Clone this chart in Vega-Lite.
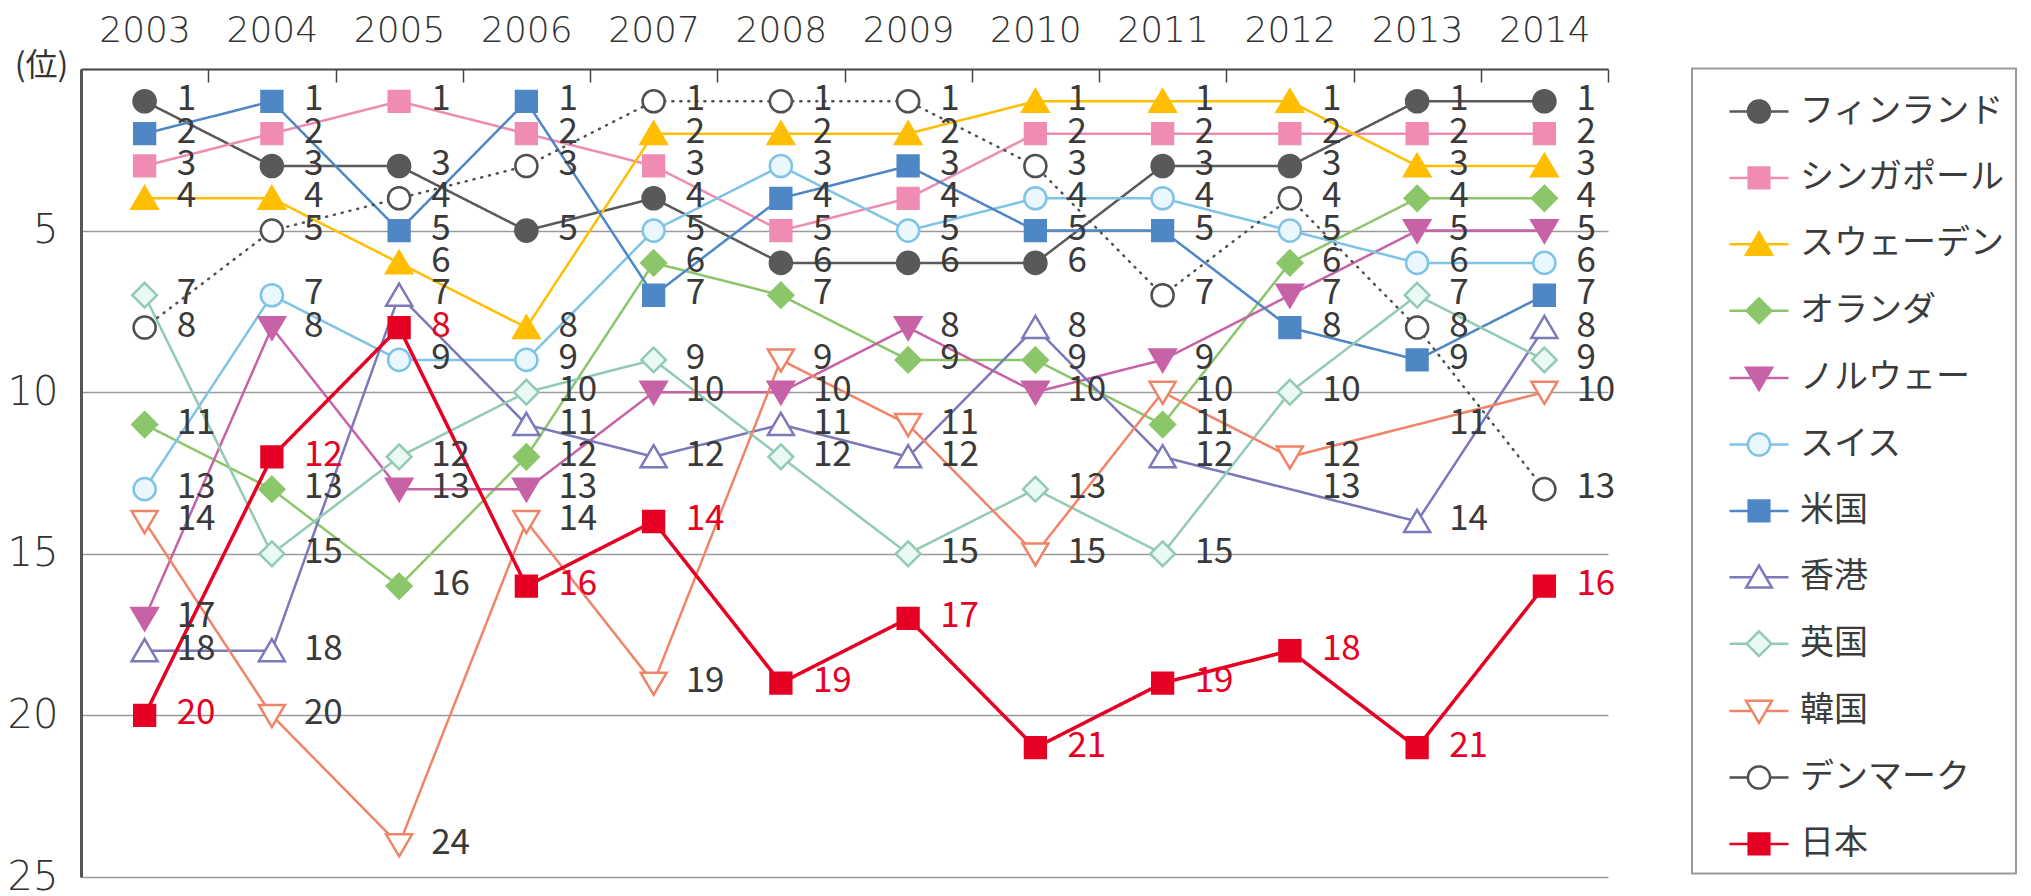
{
  "$schema": "https://vega.github.io/schema/vega-lite/v6.json",
  "width": 1527,
  "height": 808,
  "autosize": {"type": "none"},
  "padding": {"left": 81, "top": 69, "right": 423, "bottom": 19},
  "background": "white",
  "config": {"view": {"stroke": null}, "font": "Noto Sans CJK JP"},
  "data": {"values": [
    {"country": "フィンランド", "year": 2003, "rank": 1}, {"country": "フィンランド", "year": 2004, "rank": 3}, {"country": "フィンランド", "year": 2005, "rank": 3}, {"country": "フィンランド", "year": 2006, "rank": 5}, {"country": "フィンランド", "year": 2007, "rank": 4}, {"country": "フィンランド", "year": 2008, "rank": 6}, {"country": "フィンランド", "year": 2009, "rank": 6}, {"country": "フィンランド", "year": 2010, "rank": 6}, {"country": "フィンランド", "year": 2011, "rank": 3}, {"country": "フィンランド", "year": 2012, "rank": 3}, {"country": "フィンランド", "year": 2013, "rank": 1}, {"country": "フィンランド", "year": 2014, "rank": 1},
    {"country": "シンガポール", "year": 2003, "rank": 3}, {"country": "シンガポール", "year": 2004, "rank": 2}, {"country": "シンガポール", "year": 2005, "rank": 1}, {"country": "シンガポール", "year": 2006, "rank": 2}, {"country": "シンガポール", "year": 2007, "rank": 3}, {"country": "シンガポール", "year": 2008, "rank": 5}, {"country": "シンガポール", "year": 2009, "rank": 4}, {"country": "シンガポール", "year": 2010, "rank": 2}, {"country": "シンガポール", "year": 2011, "rank": 2}, {"country": "シンガポール", "year": 2012, "rank": 2}, {"country": "シンガポール", "year": 2013, "rank": 2}, {"country": "シンガポール", "year": 2014, "rank": 2},
    {"country": "スウェーデン", "year": 2003, "rank": 4}, {"country": "スウェーデン", "year": 2004, "rank": 4}, {"country": "スウェーデン", "year": 2005, "rank": 6}, {"country": "スウェーデン", "year": 2006, "rank": 8}, {"country": "スウェーデン", "year": 2007, "rank": 2}, {"country": "スウェーデン", "year": 2008, "rank": 2}, {"country": "スウェーデン", "year": 2009, "rank": 2}, {"country": "スウェーデン", "year": 2010, "rank": 1}, {"country": "スウェーデン", "year": 2011, "rank": 1}, {"country": "スウェーデン", "year": 2012, "rank": 1}, {"country": "スウェーデン", "year": 2013, "rank": 3}, {"country": "スウェーデン", "year": 2014, "rank": 3},
    {"country": "オランダ", "year": 2003, "rank": 11}, {"country": "オランダ", "year": 2004, "rank": 13}, {"country": "オランダ", "year": 2005, "rank": 16}, {"country": "オランダ", "year": 2006, "rank": 12}, {"country": "オランダ", "year": 2007, "rank": 6}, {"country": "オランダ", "year": 2008, "rank": 7}, {"country": "オランダ", "year": 2009, "rank": 9}, {"country": "オランダ", "year": 2010, "rank": 9}, {"country": "オランダ", "year": 2011, "rank": 11}, {"country": "オランダ", "year": 2012, "rank": 6}, {"country": "オランダ", "year": 2013, "rank": 4}, {"country": "オランダ", "year": 2014, "rank": 4},
    {"country": "ノルウェー", "year": 2003, "rank": 17}, {"country": "ノルウェー", "year": 2004, "rank": 8}, {"country": "ノルウェー", "year": 2005, "rank": 13}, {"country": "ノルウェー", "year": 2006, "rank": 13}, {"country": "ノルウェー", "year": 2007, "rank": 10}, {"country": "ノルウェー", "year": 2008, "rank": 10}, {"country": "ノルウェー", "year": 2009, "rank": 8}, {"country": "ノルウェー", "year": 2010, "rank": 10}, {"country": "ノルウェー", "year": 2011, "rank": 9}, {"country": "ノルウェー", "year": 2012, "rank": 7}, {"country": "ノルウェー", "year": 2013, "rank": 5}, {"country": "ノルウェー", "year": 2014, "rank": 5},
    {"country": "スイス", "year": 2003, "rank": 13}, {"country": "スイス", "year": 2004, "rank": 7}, {"country": "スイス", "year": 2005, "rank": 9}, {"country": "スイス", "year": 2006, "rank": 9}, {"country": "スイス", "year": 2007, "rank": 5}, {"country": "スイス", "year": 2008, "rank": 3}, {"country": "スイス", "year": 2009, "rank": 5}, {"country": "スイス", "year": 2010, "rank": 4}, {"country": "スイス", "year": 2011, "rank": 4}, {"country": "スイス", "year": 2012, "rank": 5}, {"country": "スイス", "year": 2013, "rank": 6}, {"country": "スイス", "year": 2014, "rank": 6},
    {"country": "米国", "year": 2003, "rank": 2}, {"country": "米国", "year": 2004, "rank": 1}, {"country": "米国", "year": 2005, "rank": 5}, {"country": "米国", "year": 2006, "rank": 1}, {"country": "米国", "year": 2007, "rank": 7}, {"country": "米国", "year": 2008, "rank": 4}, {"country": "米国", "year": 2009, "rank": 3}, {"country": "米国", "year": 2010, "rank": 5}, {"country": "米国", "year": 2011, "rank": 5}, {"country": "米国", "year": 2012, "rank": 8}, {"country": "米国", "year": 2013, "rank": 9}, {"country": "米国", "year": 2014, "rank": 7},
    {"country": "香港", "year": 2003, "rank": 18}, {"country": "香港", "year": 2004, "rank": 18}, {"country": "香港", "year": 2005, "rank": 7}, {"country": "香港", "year": 2006, "rank": 11}, {"country": "香港", "year": 2007, "rank": 12}, {"country": "香港", "year": 2008, "rank": 11}, {"country": "香港", "year": 2009, "rank": 12}, {"country": "香港", "year": 2010, "rank": 8}, {"country": "香港", "year": 2011, "rank": 12}, {"country": "香港", "year": 2012, "rank": 13}, {"country": "香港", "year": 2013, "rank": 14}, {"country": "香港", "year": 2014, "rank": 8},
    {"country": "英国", "year": 2003, "rank": 7}, {"country": "英国", "year": 2004, "rank": 15}, {"country": "英国", "year": 2005, "rank": 12}, {"country": "英国", "year": 2006, "rank": 10}, {"country": "英国", "year": 2007, "rank": 9}, {"country": "英国", "year": 2008, "rank": 12}, {"country": "英国", "year": 2009, "rank": 15}, {"country": "英国", "year": 2010, "rank": 13}, {"country": "英国", "year": 2011, "rank": 15}, {"country": "英国", "year": 2012, "rank": 10}, {"country": "英国", "year": 2013, "rank": 7}, {"country": "英国", "year": 2014, "rank": 9},
    {"country": "韓国", "year": 2003, "rank": 14}, {"country": "韓国", "year": 2004, "rank": 20}, {"country": "韓国", "year": 2005, "rank": 24}, {"country": "韓国", "year": 2006, "rank": 14}, {"country": "韓国", "year": 2007, "rank": 19}, {"country": "韓国", "year": 2008, "rank": 9}, {"country": "韓国", "year": 2009, "rank": 11}, {"country": "韓国", "year": 2010, "rank": 15}, {"country": "韓国", "year": 2011, "rank": 10}, {"country": "韓国", "year": 2012, "rank": 12}, {"country": "韓国", "year": 2013, "rank": 11}, {"country": "韓国", "year": 2014, "rank": 10},
    {"country": "デンマーク", "year": 2003, "rank": 8}, {"country": "デンマーク", "year": 2004, "rank": 5}, {"country": "デンマーク", "year": 2005, "rank": 4}, {"country": "デンマーク", "year": 2006, "rank": 3}, {"country": "デンマーク", "year": 2007, "rank": 1}, {"country": "デンマーク", "year": 2008, "rank": 1}, {"country": "デンマーク", "year": 2009, "rank": 1}, {"country": "デンマーク", "year": 2010, "rank": 3}, {"country": "デンマーク", "year": 2011, "rank": 7}, {"country": "デンマーク", "year": 2012, "rank": 4}, {"country": "デンマーク", "year": 2013, "rank": 8}, {"country": "デンマーク", "year": 2014, "rank": 13},
    {"country": "日本", "year": 2003, "rank": 20}, {"country": "日本", "year": 2004, "rank": 12}, {"country": "日本", "year": 2005, "rank": 8}, {"country": "日本", "year": 2006, "rank": 16}, {"country": "日本", "year": 2007, "rank": 14}, {"country": "日本", "year": 2008, "rank": 19}, {"country": "日本", "year": 2009, "rank": 17}, {"country": "日本", "year": 2010, "rank": 21}, {"country": "日本", "year": 2011, "rank": 19}, {"country": "日本", "year": 2012, "rank": 18}, {"country": "日本", "year": 2013, "rank": 21}, {"country": "日本", "year": 2014, "rank": 16}
  ]},
  "encoding": {
    "x": {
      "field": "year", "type": "ordinal",
      "scale": {"type": "band", "paddingInner": 0, "paddingOuter": 0},
      "axis": {
        "orient": "top", "title": null, "labelAngle": 0, "tickBand": "extent",
        "tickSize": -13, "tickColor": "#444444", "tickWidth": 1.5,
        "domainColor": "#444444", "domainWidth": 2,
        "labelPadding": 41, "labelBaseline": "alphabetic",
        "labelFontSize": 36, "labelColor": "#333333", "labelFont": "DejaVu Sans", "labelFontWeight": 300,
        "grid": false
      }
    },
    "y": {
      "field": "rank", "type": "quantitative",
      "scale": {"domain": [0, 25], "reverse": true, "nice": false, "zero": false},
      "axis": {
        "values": [5, 10, 15, 20, 25], "grid": true, "gridColor": "#9a9a9a", "gridWidth": 1.5,
        "domainColor": "#555555", "domainWidth": 3, "ticks": false,
        "labelFontSize": 40, "labelColor": "#333333", "labelPadding": 23, "labelFont": "DejaVu Sans", "labelFontWeight": 300,
        "title": "(位)", "titleAngle": 0, "titleX": -40, "titleY": -4, "titleAlign": "center", "titleBaseline": "middle",
        "titleFontSize": 32, "titleFontWeight": "normal", "titleColor": "#333333", "titleFont": "Noto Sans CJK JP"
      }
    }
  },
  "layer": [
    {
      "mark": {"type": "line", "strokeCap": "round", "strokeJoin": "round"},
      "encoding": {
        "stroke": {
          "field": "country", "type": "nominal",
          "scale": {
            "domain": ["フィンランド", "シンガポール", "スウェーデン", "オランダ", "ノルウェー", "スイス", "米国", "香港", "英国", "韓国", "デンマーク", "日本"],
            "range": ["#595959", "#f08cb4", "#ffbe00", "#8cc66a", "#c862a6", "#7fc3e6", "#4f86c6", "#7b79b9", "#92cbb2", "#f08468", "#505050", "#e60023"]
          },
          "legend": {
            "orient": "none", "legendX": 1611, "legendY": -0.5, "title": null, "padding": 12,
            "strokeColor": "#999999", "fillColor": "#ffffff",
            "symbolSize": 3481, "symbolOffset": 24, "symbolStrokeWidth": 2.5,
            "labelOffset": 10, "labelFontSize": 34, "labelFont": "Noto Sans CJK JP", "labelColor": "#3c3c3c", "labelLimit": 400,
            "rowPadding": 18.4,
            "encode": {
              "symbols": {"update": {
                "shape": {"signal": "['M-1,0H-0.375M0.375,0H1M-0.375,0A0.375,0.375 0 1,0 0.375,0A0.375,0.375 0 1,0 -0.375,0Z', 'M-1,0H-0.35M0.35,0H1M-0.35,-0.35H0.35V0.35H-0.35Z', 'M-1,0H-0.235M0.235,0H1M0,-0.4L0.44,0.35H-0.44Z', 'M-1,0H-0.42M0.42,0H1M0,-0.42L0.42,0L0,0.42L-0.42,0Z', 'M-1,0H-0.235M0.235,0H1M0,0.4L0.44,-0.35H-0.44Z'][indexof(['フィンランド', 'シンガポール', 'スウェーデン', 'オランダ', 'ノルウェー', 'スイス', '米国', '香港', '英国', '韓国', 'デンマーク', '日本'], datum.value) % 5]"},
                "fill": {"signal": "['#595959', '#f08cb4', '#ffbe00', '#8cc66a', '#c862a6', '#eaf7fc', '#4f86c6', '#ffffff', '#e9f9f4', '#ffffff', '#ffffff', '#e60023'][indexof(['フィンランド', 'シンガポール', 'スウェーデン', 'オランダ', 'ノルウェー', 'スイス', '米国', '香港', '英国', '韓国', 'デンマーク', '日本'], datum.value)]"},
                "strokeDash": {"value": [1, 0]},
                "opacity": {"value": 1}
              }},
              "legend": {"update": {"strokeWidth": {"value": 2}}}
            }
          }
        },
        "strokeWidth": {"condition": {"test": "datum.country === '日本'", "value": 3.5}, "value": 2.5},
        "strokeDash": {"condition": {"test": "datum.country === 'デンマーク'", "value": [1, 7]}, "value": [1, 0]}
      }
    },
    {
      "transform": [{"filter": "!((datum.country === '香港' && datum.year === 2012) || (datum.country === '韓国' && datum.year === 2013))"}],
      "mark": {"type": "point", "size": 676, "strokeWidth": 2.5, "opacity": 1},
      "encoding": {
        "shape": {
          "field": "country", "type": "nominal",
          "scale": {
            "domain": ["日本", "デンマーク", "韓国", "英国", "香港", "米国", "スイス", "ノルウェー", "オランダ", "スウェーデン", "シンガポール", "フィンランド"],
            "range": [
              "M-0.8,-0.8H0.8V0.8H-0.8Z",
              "M-0.85,0A0.85,0.85 0 1,0 0.85,0A0.85,0.85 0 1,0 -0.85,0Z",
              "M0,0.9L1,-0.8H-1Z",
              "M0,-0.95L0.95,0L0,0.95L-0.95,0Z",
              "M0,-0.9L1,0.8H-1Z",
              "M-0.8,-0.8H0.8V0.8H-0.8Z",
              "M-0.85,0A0.85,0.85 0 1,0 0.85,0A0.85,0.85 0 1,0 -0.85,0Z",
              "M0,0.9L1,-0.8H-1Z",
              "M0,-0.95L0.95,0L0,0.95L-0.95,0Z",
              "M0,-0.9L1,0.8H-1Z",
              "M-0.8,-0.8H0.8V0.8H-0.8Z",
              "M-0.85,0A0.85,0.85 0 1,0 0.85,0A0.85,0.85 0 1,0 -0.85,0Z"
            ]
          },
          "legend": null
        },
        "fill": {
          "field": "country", "type": "nominal",
          "scale": {
            "domain": ["日本", "デンマーク", "韓国", "英国", "香港", "米国", "スイス", "ノルウェー", "オランダ", "スウェーデン", "シンガポール", "フィンランド"],
            "range": ["#e60023", "#ffffff", "#ffffff", "#e9f9f4", "#ffffff", "#4f86c6", "#eaf7fc", "#c862a6", "#8cc66a", "#ffbe00", "#f08cb4", "#595959"]
          },
          "legend": null
        },
        "stroke": {
          "field": "country", "type": "nominal",
          "scale": {
            "domain": ["フィンランド", "シンガポール", "スウェーデン", "オランダ", "ノルウェー", "スイス", "米国", "香港", "英国", "韓国", "デンマーク", "日本"],
            "range": ["#595959", "#f08cb4", "#ffbe00", "#8cc66a", "#c862a6", "#7fc3e6", "#4f86c6", "#7b79b9", "#92cbb2", "#f08468", "#505050", "#e60023"]
          },
          "legend": {
            "orient": "none", "legendX": 1611, "legendY": -0.5, "title": null, "padding": 12,
            "strokeColor": "#999999", "fillColor": "#ffffff",
            "symbolSize": 3481, "symbolOffset": 24, "symbolStrokeWidth": 2.5,
            "labelOffset": 10, "labelFontSize": 34, "labelFont": "Noto Sans CJK JP", "labelColor": "#3c3c3c", "labelLimit": 400,
            "rowPadding": 18.4,
            "encode": {
              "symbols": {"update": {
                "shape": {"signal": "['M-1,0H-0.375M0.375,0H1M-0.375,0A0.375,0.375 0 1,0 0.375,0A0.375,0.375 0 1,0 -0.375,0Z', 'M-1,0H-0.35M0.35,0H1M-0.35,-0.35H0.35V0.35H-0.35Z', 'M-1,0H-0.235M0.235,0H1M0,-0.4L0.44,0.35H-0.44Z', 'M-1,0H-0.42M0.42,0H1M0,-0.42L0.42,0L0,0.42L-0.42,0Z', 'M-1,0H-0.235M0.235,0H1M0,0.4L0.44,-0.35H-0.44Z'][indexof(['フィンランド', 'シンガポール', 'スウェーデン', 'オランダ', 'ノルウェー', 'スイス', '米国', '香港', '英国', '韓国', 'デンマーク', '日本'], datum.value) % 5]"},
                "fill": {"signal": "['#595959', '#f08cb4', '#ffbe00', '#8cc66a', '#c862a6', '#eaf7fc', '#4f86c6', '#ffffff', '#e9f9f4', '#ffffff', '#ffffff', '#e60023'][indexof(['フィンランド', 'シンガポール', 'スウェーデン', 'オランダ', 'ノルウェー', 'スイス', '米国', '香港', '英国', '韓国', 'デンマーク', '日本'], datum.value)]"},
                "strokeDash": {"value": [1, 0]},
                "opacity": {"value": 1}
              }},
              "legend": {"update": {"strokeWidth": {"value": 2}}}
            }
          }
        }
      }
    },
    {
      "mark": {"type": "text", "align": "left", "baseline": "middle", "dx": 32, "dy": -2, "fontSize": 35, "font": "Noto Sans CJK JP"},
      "encoding": {
        "text": {"field": "rank", "type": "quantitative"},
        "color": {"condition": {"test": "datum.country === '日本'", "value": "#e60023"}, "value": "#3a3a3a"}
      }
    }
  ]
}
